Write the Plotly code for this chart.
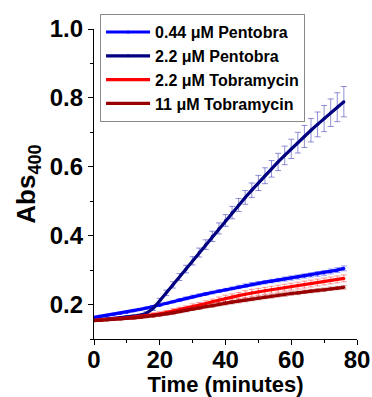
import plotly.graph_objects as go

time_min = [0, 2, 4, 6, 8, 10, 12, 14, 16, 18, 20, 22, 24, 26, 28, 30, 32, 34, 36, 38,
            40, 42, 44, 46, 48, 50, 52, 54, 56, 58, 60, 62, 64, 66, 68, 70, 72, 74, 76]

pento_044 = [0.163, 0.166, 0.169, 0.172, 0.175, 0.178, 0.182, 0.186, 0.190, 0.194,
             0.198, 0.203, 0.208, 0.213, 0.218, 0.223, 0.227, 0.231, 0.235, 0.239,
             0.243, 0.247, 0.251, 0.255, 0.259, 0.262, 0.265, 0.268, 0.271, 0.274,
             0.277, 0.280, 0.283, 0.286, 0.289, 0.292, 0.296, 0.300, 0.305]
pento_044_err = [0.003, 0.003, 0.003, 0.003, 0.003, 0.003, 0.003, 0.003, 0.003, 0.003,
                 0.003, 0.003, 0.003, 0.004, 0.004, 0.004, 0.004, 0.004, 0.004, 0.004,
                 0.004, 0.004, 0.005, 0.005, 0.005, 0.005, 0.005, 0.005, 0.005, 0.006,
                 0.006, 0.006, 0.006, 0.006, 0.007, 0.007, 0.007, 0.007, 0.007]

pento_22 = [0.155, 0.156, 0.158, 0.160, 0.162, 0.164, 0.166, 0.169, 0.175, 0.189,
            0.211, 0.234, 0.257, 0.280, 0.303, 0.327, 0.351, 0.374, 0.398, 0.421,
            0.444, 0.467, 0.489, 0.511, 0.532, 0.553, 0.574, 0.594, 0.614, 0.633,
            0.652, 0.670, 0.688, 0.706, 0.723, 0.740, 0.757, 0.773, 0.789]
pento_22_err = [0.003, 0.003, 0.003, 0.003, 0.003, 0.003, 0.003, 0.004, 0.005, 0.006,
                0.007, 0.008, 0.009, 0.010, 0.011, 0.012, 0.013, 0.014, 0.015, 0.016,
                0.017, 0.018, 0.019, 0.020, 0.021, 0.022, 0.023, 0.024, 0.025, 0.027,
                0.028, 0.030, 0.032, 0.034, 0.036, 0.038, 0.040, 0.042, 0.044]

tobra_22 = [0.154, 0.155, 0.157, 0.158, 0.160, 0.161, 0.163, 0.165, 0.167, 0.170,
            0.173, 0.177, 0.181, 0.185, 0.189, 0.194, 0.198, 0.203, 0.208, 0.213,
            0.218, 0.222, 0.226, 0.230, 0.234, 0.237, 0.240, 0.243, 0.246, 0.249,
            0.252, 0.255, 0.258, 0.261, 0.264, 0.267, 0.270, 0.273, 0.276]
tobra_22_err = [0.003, 0.003, 0.003, 0.004, 0.004, 0.004, 0.005, 0.005, 0.005, 0.006,
                0.006, 0.006, 0.007, 0.007, 0.007, 0.008, 0.008, 0.008, 0.008, 0.009,
                0.009, 0.009, 0.009, 0.010, 0.010, 0.010, 0.010, 0.010, 0.010, 0.010,
                0.010, 0.010, 0.010, 0.010, 0.010, 0.010, 0.010, 0.010, 0.010]

tobra_11 = [0.153, 0.154, 0.155, 0.157, 0.158, 0.160, 0.161, 0.163, 0.165, 0.167,
            0.170, 0.173, 0.176, 0.180, 0.183, 0.187, 0.190, 0.194, 0.197, 0.201,
            0.204, 0.207, 0.210, 0.213, 0.216, 0.219, 0.222, 0.224, 0.227, 0.229,
            0.232, 0.234, 0.237, 0.239, 0.241, 0.243, 0.246, 0.248, 0.250]
tobra_11_err = [0.002, 0.002, 0.002, 0.002, 0.003, 0.003, 0.003, 0.003, 0.003, 0.003,
                0.003, 0.004, 0.004, 0.004, 0.004, 0.004, 0.004, 0.004, 0.005, 0.005,
                0.005, 0.005, 0.005, 0.005, 0.005, 0.005, 0.005, 0.005, 0.005, 0.005,
                0.005, 0.005, 0.005, 0.005, 0.005, 0.005, 0.005, 0.005, 0.005]

series = [
    ("0.44 μM Pentobra", pento_044, pento_044_err, "#0000FF", "rgba(0,0,255,0.4)"),
    ("2.2 μM Pentobra", pento_22, pento_22_err, "#000080", "rgba(70,70,190,0.6)"),
    ("2.2 μM Tobramycin", tobra_22, tobra_22_err, "#FF0000", "rgba(255,0,0,0.4)"),
    ("11 μM Tobramycin", tobra_11, tobra_11_err, "#990000", "rgba(153,0,0,0.4)"),
]

fig = go.Figure()
for name, ys, errs, col, ecol in series:
    fig.add_trace(go.Scatter(
        x=time_min, y=ys, name=name, mode="lines+markers",
        line=dict(color=col, width=3.2),
        marker=dict(color=col, size=3),
        error_y=dict(type="data", array=errs, visible=True, color=ecol,
                     thickness=1, width=3),
    ))

FAM = "Liberation Sans, Arial, sans-serif"
tick_font = dict(family=FAM, size=24, color="black", weight="bold")
xtitle_font = dict(family=FAM, size=22, color="black", weight="bold")
ytitle_font = dict(family=FAM, size=26, color="black", weight="bold")

fig.update_layout(
    width=372, height=397,
    margin=dict(l=94, r=15, t=29, b=58),
    paper_bgcolor="white", plot_bgcolor="white",
    font=dict(family=FAM, color="black"),
    showlegend=True,
    legend=dict(
        x=0.023, y=1.048, xanchor="left", yanchor="top",
        bgcolor="white", bordercolor="#888888", borderwidth=1,
        font=dict(family=FAM, size=16, color="black", weight="bold"),
        tracegroupgap=0, itemsizing="trace", itemwidth=44,
    ),
    xaxis=dict(
        range=[0, 80], tickvals=[0, 20, 40, 60, 80], automargin=False,
        showgrid=False, zeroline=False,
        showline=True, linecolor="black", linewidth=1.3,
        ticks="outside", ticklen=5, tickwidth=1.3, tickcolor="black",
        minor=dict(tickvals=[10, 30, 50, 70], ticks="outside", ticklen=3,
                   tickwidth=1.3, tickcolor="black", showgrid=False),
        tickfont=tick_font, ticklabelstandoff=-6,
        title=dict(text="Time (minutes)", font=xtitle_font, standoff=0),
    ),
    yaxis=dict(
        range=[0.1, 1.0], tickvals=[0.2, 0.4, 0.6, 0.8, 1.0], automargin=False,
        ticktext=["0.2", "0.4", "0.6", "0.8", "1.0"],
        showgrid=False, zeroline=False,
        showline=True, linecolor="black", linewidth=1.3,
        ticks="outside", ticklen=5, tickwidth=1.3, tickcolor="black",
        minor=dict(tickvals=[0.1, 0.3, 0.5, 0.7, 0.9], ticks="outside",
                   ticklen=3, tickwidth=1.3, tickcolor="black", showgrid=False),
        tickfont=tick_font,
        title=dict(text="Abs<sub>400</sub>", font=ytitle_font, standoff=6),
    ),
)

fig.write_html("out.html", config={"displayModeBar": False},
               post_script="document.body.style.margin='0';document.body.style.padding='0';")
